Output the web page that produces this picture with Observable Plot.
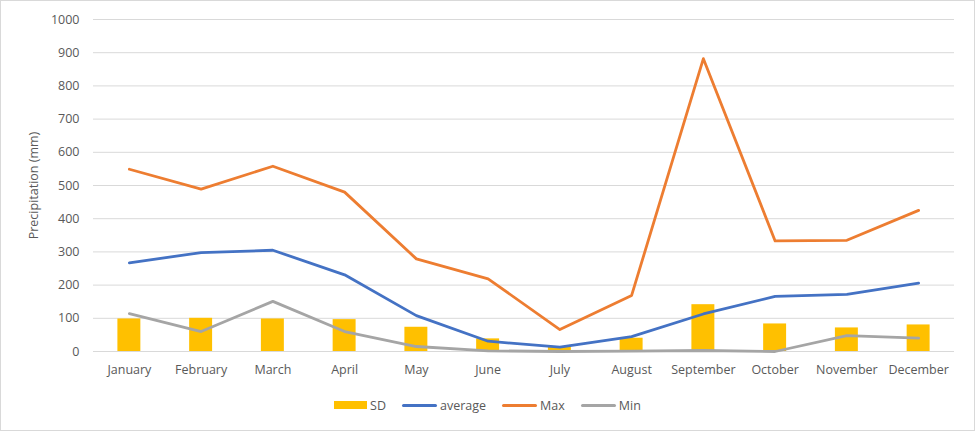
<!DOCTYPE html>
<html><head><meta charset="utf-8">
<script src="https://cdn.jsdelivr.net/npm/d3@7"></script>
<script src="https://cdn.jsdelivr.net/npm/@observablehq/plot@0.6"></script>
<style>
body{margin:0;background:#fff;font-family:"Open Sans",sans-serif;}
#wrap{position:relative;width:975px;height:431px;overflow:hidden;background:#fff;}
#wrap::after{content:"";position:absolute;left:0;top:0;right:0;bottom:0;border:1px solid #d9d9d9;pointer-events:none;}
#chart{position:absolute;left:0;top:0;}
#legend{position:absolute;left:0;top:396px;width:975px;height:18px;display:flex;justify-content:center;align-items:center;gap:16px;font-size:12.5px;color:#595959;}
.item{display:flex;align-items:center;gap:3px;}
.sw{width:33px;height:8px;}
.ln{width:35px;height:3px;border-radius:2px;}
</style></head>
<body><div id="wrap"><div id="chart"></div><div id="legend"></div></div>
<script>
const months = ["January","February","March","April","May","June","July","August","September","October","November","December"];
const sd      = [98, 100, 98, 96, 73, 38, 13, 40, 141, 83, 71, 80];
const average = [267, 298, 305, 231, 108, 31, 13, 45, 113, 166, 172, 206];
const maxv    = [549, 489, 558, 480, 279, 219, 66, 169, 882, 333, 335, 425];
const minv    = [114, 60, 151, 60, 15, 2, 0, 1, 3, 0, 48, 40];
const seriesNames = ["SD", "average", "Max", "Min"];
const seriesColors = ["#FFC000", "#4472C4", "#ED7D31", "#A5A5A5"];
const yTicks = [0, 100, 200, 300, 400, 500, 600, 700, 800, 900, 1000];
const yLabel = "Precipitation (mm)";

const rows = months.map((m, i) => ({month: m, sd: sd[i], average: average[i], max: maxv[i], min: minv[i]}));
const lineOpts = (key, color) => ({x: "month", y: key, stroke: color, strokeWidth: 2.8, strokeLinejoin: "round", strokeLinecap: "round"});

const chart = Plot.plot({
  width: 975,
  height: 390,
  marginLeft: 93,
  marginRight: 21,
  marginTop: 19,
  marginBottom: 39,
  style: {fontFamily: "'Open Sans', sans-serif", fontSize: "12.5px", color: "#595959", background: "transparent"},
  x: {domain: months, type: "band", paddingInner: 0.68, paddingOuter: 0.34, round: false},
  y: {domain: [0, 1000]},
  marks: [
    Plot.gridY(yTicks, {stroke: "#d9d9d9", strokeOpacity: 1, strokeWidth: 1}),
    Plot.axisY(yTicks, {tickSize: 0, tickPadding: 14, tickFormat: d3.format("d"), label: yLabel, labelAnchor: "center", labelArrow: "none", labelOffset: 64, fill: "#595959"}),
    Plot.axisX({tickSize: 0, tickPadding: 14, label: null, fill: "#595959"}),
    Plot.barY(rows, {x: "month", y: "sd", fill: seriesColors[0]}),
    Plot.ruleY([0], {stroke: "#d9d9d9", strokeWidth: 1}),
    Plot.lineY(rows, lineOpts("average", seriesColors[1])),
    Plot.lineY(rows, lineOpts("max", seriesColors[2])),
    Plot.lineY(rows, lineOpts("min", seriesColors[3]))
  ]
});
document.getElementById("chart").appendChild(chart);

const legend = document.getElementById("legend");
seriesNames.forEach((name, i) => {
  const item = document.createElement("div");
  item.className = "item";
  const sw = document.createElement("div");
  sw.className = i === 0 ? "sw" : "ln";
  sw.style.background = seriesColors[i];
  const tx = document.createElement("span");
  tx.textContent = name;
  item.appendChild(sw);
  item.appendChild(tx);
  legend.appendChild(item);
});
</script>
</body></html>
